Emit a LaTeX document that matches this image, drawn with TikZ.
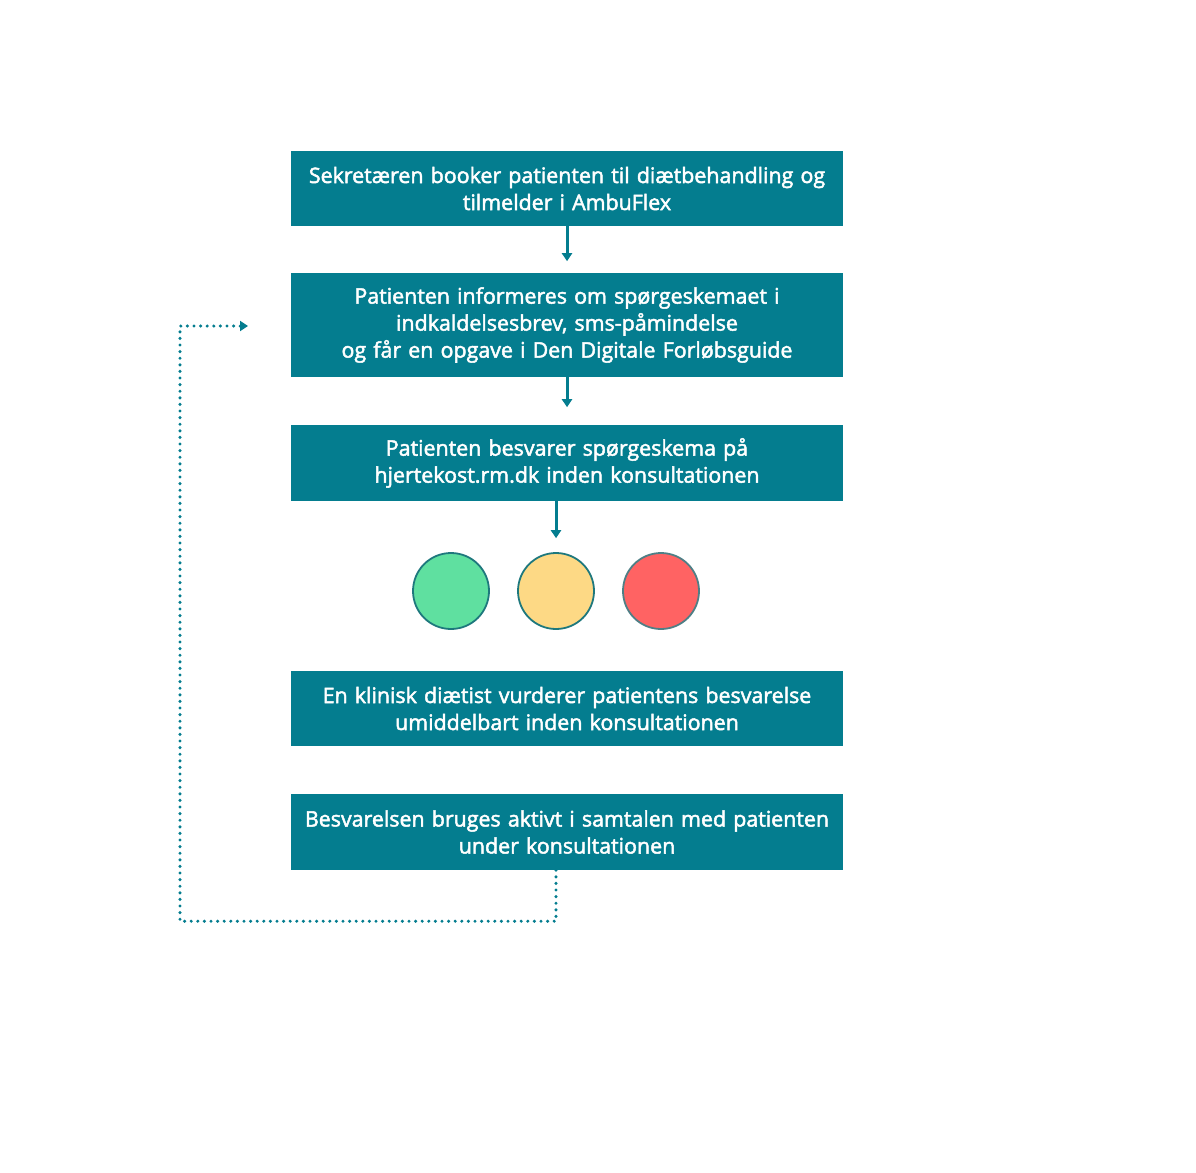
\documentclass[tikz,border=0pt]{standalone}
\usepackage{fontspec}
\setmainfont{Open Sans}
\newfontfamily\boxfont{Open Sans}[FakeBold=2.2]
\usetikzlibrary{arrows.meta}

\definecolor{teal}{RGB}{4,125,143}
\definecolor{ringteal}{RGB}{30,120,125}
\definecolor{lightgreen}{RGB}{95,224,160}
\definecolor{lightyellow}{RGB}{253,217,133}
\definecolor{lightred}{RGB}{255,99,99}

\tikzset{
  stepbox/.style={fill=teal, text=white, minimum width=552pt, text width=548pt,
    align=center, font=\boxfont\fontsize{21.4}{27}\selectfont, inner sep=0pt},
  flow/.style={draw=teal, line width=3pt, -{Triangle[length=8pt,width=10pt]}},
  loop/.style={draw=teal, line width=3.4pt, line cap=round, dash pattern=on 0pt off 6.6pt,
    -{Triangle[length=8pt,width=10pt]}},
  light/.style={circle, draw=ringteal, line width=1.8pt, minimum size=76pt, inner sep=0pt}
}

\begin{document}
\begin{tikzpicture}[x=1pt, y=-1pt]

        \useasboundingbox (0, 0) rectangle (1196, 1172);

        % Trin i forloebet
        \node[stepbox, minimum height=75pt] (booking) at (567, 188.5) {Sekretæren booker patienten til diætbehandling og\\tilmelder i AmbuFlex};
        \node[stepbox, minimum height=104pt] (info) at (567, 325) {Patienten informeres om spørgeskemaet i\\indkaldelsesbrev, sms-påmindelse\\og får en opgave i Den Digitale Forløbsguide};
        \node[stepbox, minimum height=76pt] (besvar) at (567, 463) {Patienten besvarer spørgeskema på\\hjertekost.rm.dk inden konsultationen};
        \node[stepbox, minimum height=75pt] (vurdering) at (567, 708.5) {En klinisk diætist vurderer patientens besvarelse\\umiddelbart inden konsultationen};
        \node[stepbox, minimum height=76pt] (samtale) at (567, 832) {Besvarelsen bruges aktivt i samtalen med patienten\\under konsultationen};

        % Trafiklys
        \node[light, fill=lightgreen] (green) at (451, 591) {};
        \node[light, fill=lightyellow] (yellow) at (556, 591) {};
        \node[light, fill=lightred, draw=gray!60!teal] (red) at (661, 591) {};

        % Pile
        \draw[flow] (booking.south) -- ++(0, 35);
        \draw[flow] (info.south) -- ++(0, 30);
        \draw[flow] (besvar.south -| yellow) -- ++(0, 37);

        % Tilbageloeb
        \coordinate (back) at (248, 326);
        \draw[loop] (samtale.south -| yellow) -- ++(0, 51) -| (180, 326) -- (back);

\end{tikzpicture}
\end{document}
